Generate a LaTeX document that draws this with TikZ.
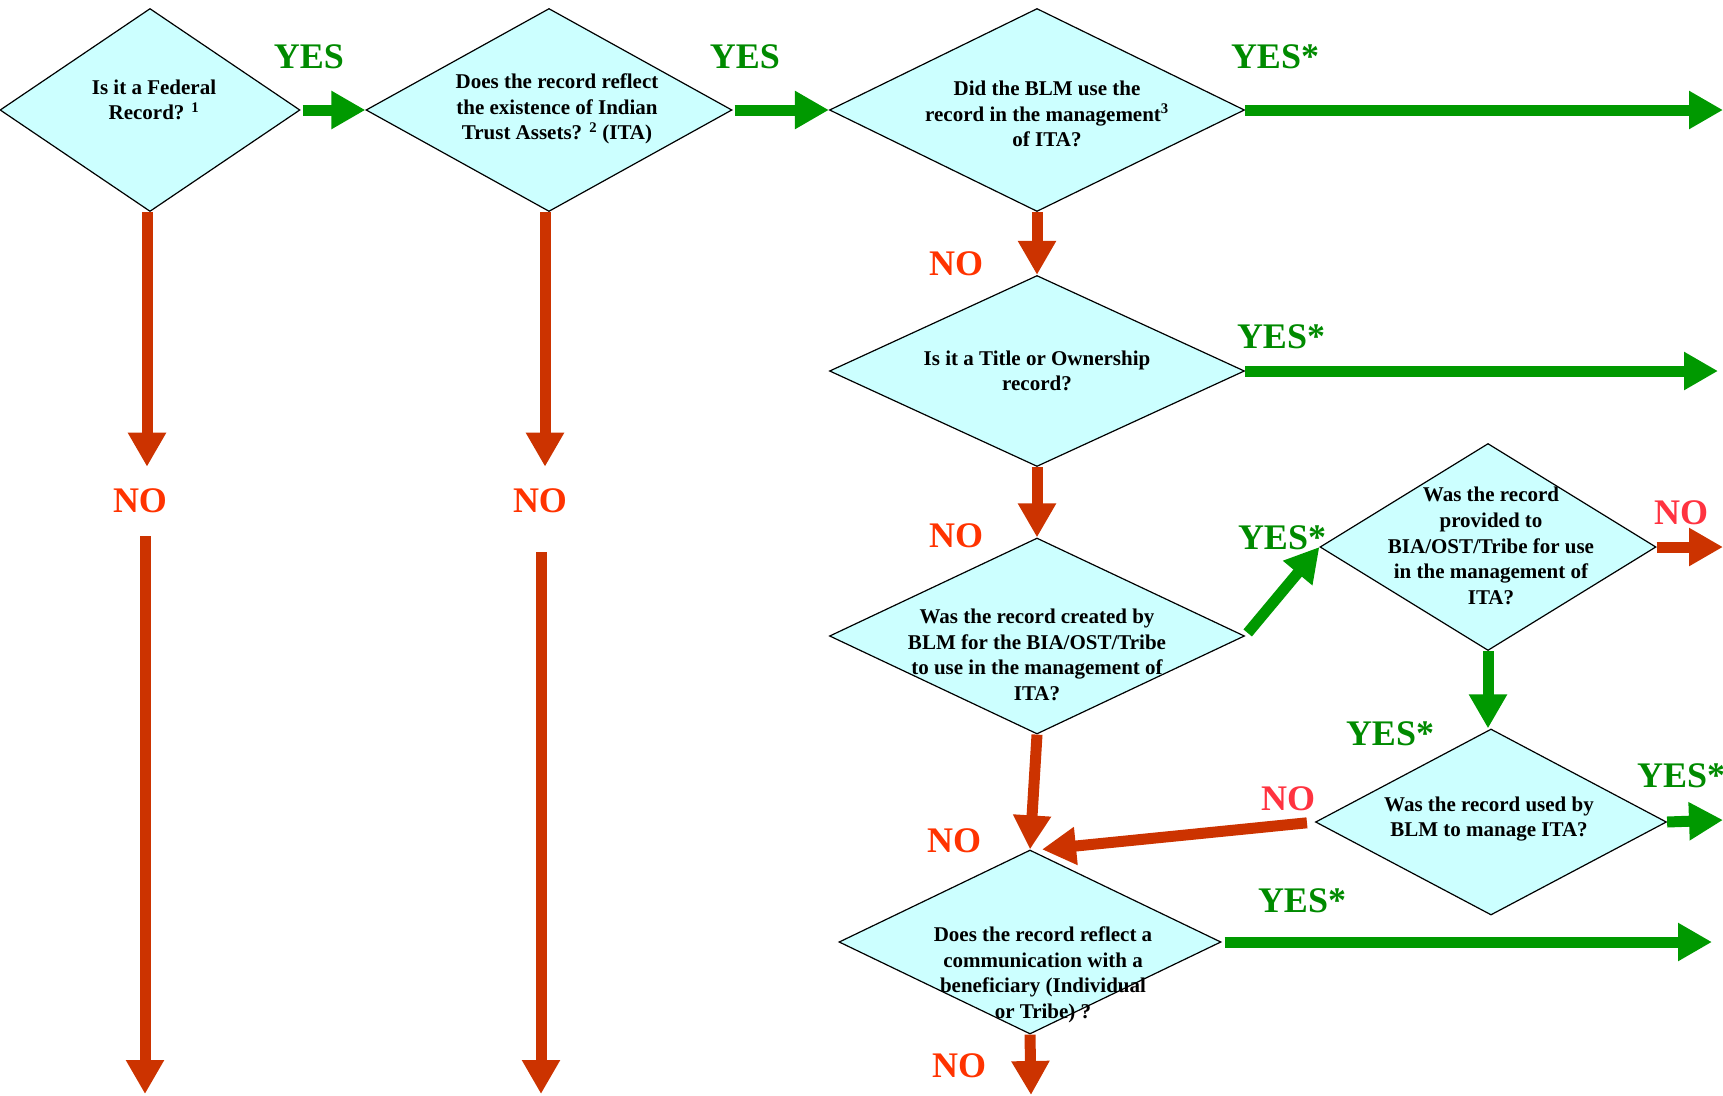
\documentclass[tikz,border=0pt]{standalone}
\usepackage{fontspec}
\setmainfont{Liberation Serif}
\usetikzlibrary{shapes.geometric,arrows.meta}
\definecolor{qfill}{HTML}{CCFFFF}
\definecolor{yesgreen}{HTML}{009900}
\definecolor{yestext}{HTML}{008A00}
\definecolor{nobrown}{HTML}{CC3300}
\definecolor{notext}{HTML}{FF3300}
\definecolor{nopink}{HTML}{FF3340}
\tikzset{
	quest/.style={shape=diamond,draw=black,line width=1.2pt,fill=qfill,inner sep=0pt},
	qtext/.style={align=center,inner sep=0pt,font=\fontsize{21}{25.6}\selectfont\bfseries},
	yeslab/.style={text=yestext,inner sep=0pt,font=\fontsize{36}{40}\selectfont\bfseries},
	nolab/.style={text=notext,inner sep=0pt,font=\fontsize{36}{40}\selectfont\bfseries},
	yesarrow/.style={color=yesgreen,line width=11pt,-{Triangle[width=36pt,length=34pt]}},
	noarrow/.style={color=nobrown,line width=11pt,-{Triangle[width=36pt,length=34pt]}}
}
\begin{document}
\begin{tikzpicture}[x=1pt,y=-1pt]
				\useasboundingbox (0,0) rectangle (1723,1095);
				\node[quest,minimum width=300,minimum height=203] (d1) at (150,110) {};%federal
				\node[quest,minimum width=366,minimum height=203] (d2) at (549,110) {};%trust assets
				\node[quest,minimum width=415,minimum height=203] (d3) at (1037,110) {};%BLM use
				\node[quest,minimum width=415,minimum height=191] (d4) at (1037,371) {};%title
				\node[quest,minimum width=415,minimum height=196] (d5) at (1037,636) {};%created by
				\node[quest,minimum width=336,minimum height=207] (d6) at (1488,547) {};%provided to
				\node[quest,minimum width=351,minimum height=186] (d7) at (1491,822) {};%used by
				\node[quest,minimum width=382,minimum height=184] (d8) at (1030,942) {};%communication
				
				\node[qtext] (t1) at (154,100) {Is it a Federal\\Record? \textsuperscript{1}};
				\node[qtext] (t2) at (557,109) {Does the record reflect\\the existence of Indian\\Trust Assets? \textsuperscript{2} (ITA)};
				\node[qtext] (t3) at (1047,114) {Did the BLM use the\\record in the management\textsuperscript{3}\\of ITA?};
				\node[qtext] (t4) at (1037,371) {Is it a Title or Ownership\\record?};
				\node[qtext] (t5) at (1037,655) {Was the record created by\\BLM for the BIA/OST/Tribe\\to use in the management of\\ITA?};
				\node[qtext] (t6) at (1491,546) {Was the record\\provided to\\BIA/OST/Tribe for use\\in the management of\\ITA?};
				\node[qtext] (t7) at (1489,819) {Was the record used by\\BLM to manage ITA?};
				\node[qtext] (t8) at (1043,975) {Does the record reflect a\\communication with a\\beneficiary (Individual\\or Tribe) ?};
				
				\node[yeslab] (y1) at (309,57) {YES};
				\node[yeslab] (y2) at (745,57) {YES};
				\node[yeslab] (y3) at (1275,57) {YES*};
				\node[yeslab] (y4) at (1281,337) {YES*};
				\node[yeslab] (y5) at (1282,538) {YES*};
				\node[yeslab] (y6) at (1390,734) {YES*};
				\node[yeslab] (y7) at (1681,776) {YES*};
				\node[yeslab] (y8) at (1302,901) {YES*};
				\node[nolab] (n1) at (140,501) {NO};
				\node[nolab] (n2) at (540,501) {NO};
				\node[nolab] (n3) at (956,264) {NO};
				\node[nolab] (n4) at (956,536) {NO};
				\node[nolab] (n5) at (954,841) {NO};
				\node[nolab,text=nopink] (n6) at (1681,513) {NO};
				\node[nolab,text=nopink] (n7) at (1288,799) {NO};
				\node[nolab] (n8) at (959,1066) {NO};
				
				\coordinate (a1) at (147,467);%top columns
				\coordinate (a2) at (545,467);
				\coordinate (b1) at (145,1094);%bottom ends
				\coordinate (b2) at (541,1094);
				\coordinate (b8) at (1031,1095);
				\coordinate (e3) at (1723,110);%right ends
				\coordinate (e4) at (1718,368);
				\coordinate (e6) at (1723,552);
				\coordinate (e7) at (1723,820);
				\coordinate (e8) at (1712,942);
				
				\draw[yesarrow,shorten <=2pt] (d1.east) -- (d2.west);
				\draw[yesarrow,shorten <=2pt] (d2.east) -- (d3.west);
				\draw[yesarrow] (d3.east) -- (e3);
				\draw[yesarrow] (d4.east) -- (d4.east -| e4);
				\draw[yesarrow,shorten <=4pt] (d5.east) -- (d6.west);
				\draw[yesarrow] (d6.south) -- (d6.south |- d7.north);
				\draw[yesarrow] (d7.east) -- (e7);
				\draw[yesarrow,shorten <=3pt] (d8.east) -- (e8);
				
				\draw[noarrow,shorten >=22pt] (d1.south -| a1) -- (n1.north -| a1);
				\draw[noarrow,shorten <=23pt] (n1.south -| b1) -- (b1);
				\draw[noarrow,shorten >=22pt] (d2.south -| a2) -- (n2.north -| a2);
				\draw[noarrow,shorten <=39pt] (n2.south -| b2) -- (b2);
				\draw[noarrow] (d3.south) -- (d4.north);
				\draw[noarrow] (d4.south) -- (d5.north);
				\draw[noarrow] (d5.south) -- (d8.north);
				\draw[noarrow] (d6.east) -- (d6.east -| e6);
				\draw[noarrow,shorten <=8pt] (d7.west) -- ([xshift=12pt]d8.north);
				\draw[noarrow] (d8.south) -- (b8);
			\end{tikzpicture}
\end{document}
